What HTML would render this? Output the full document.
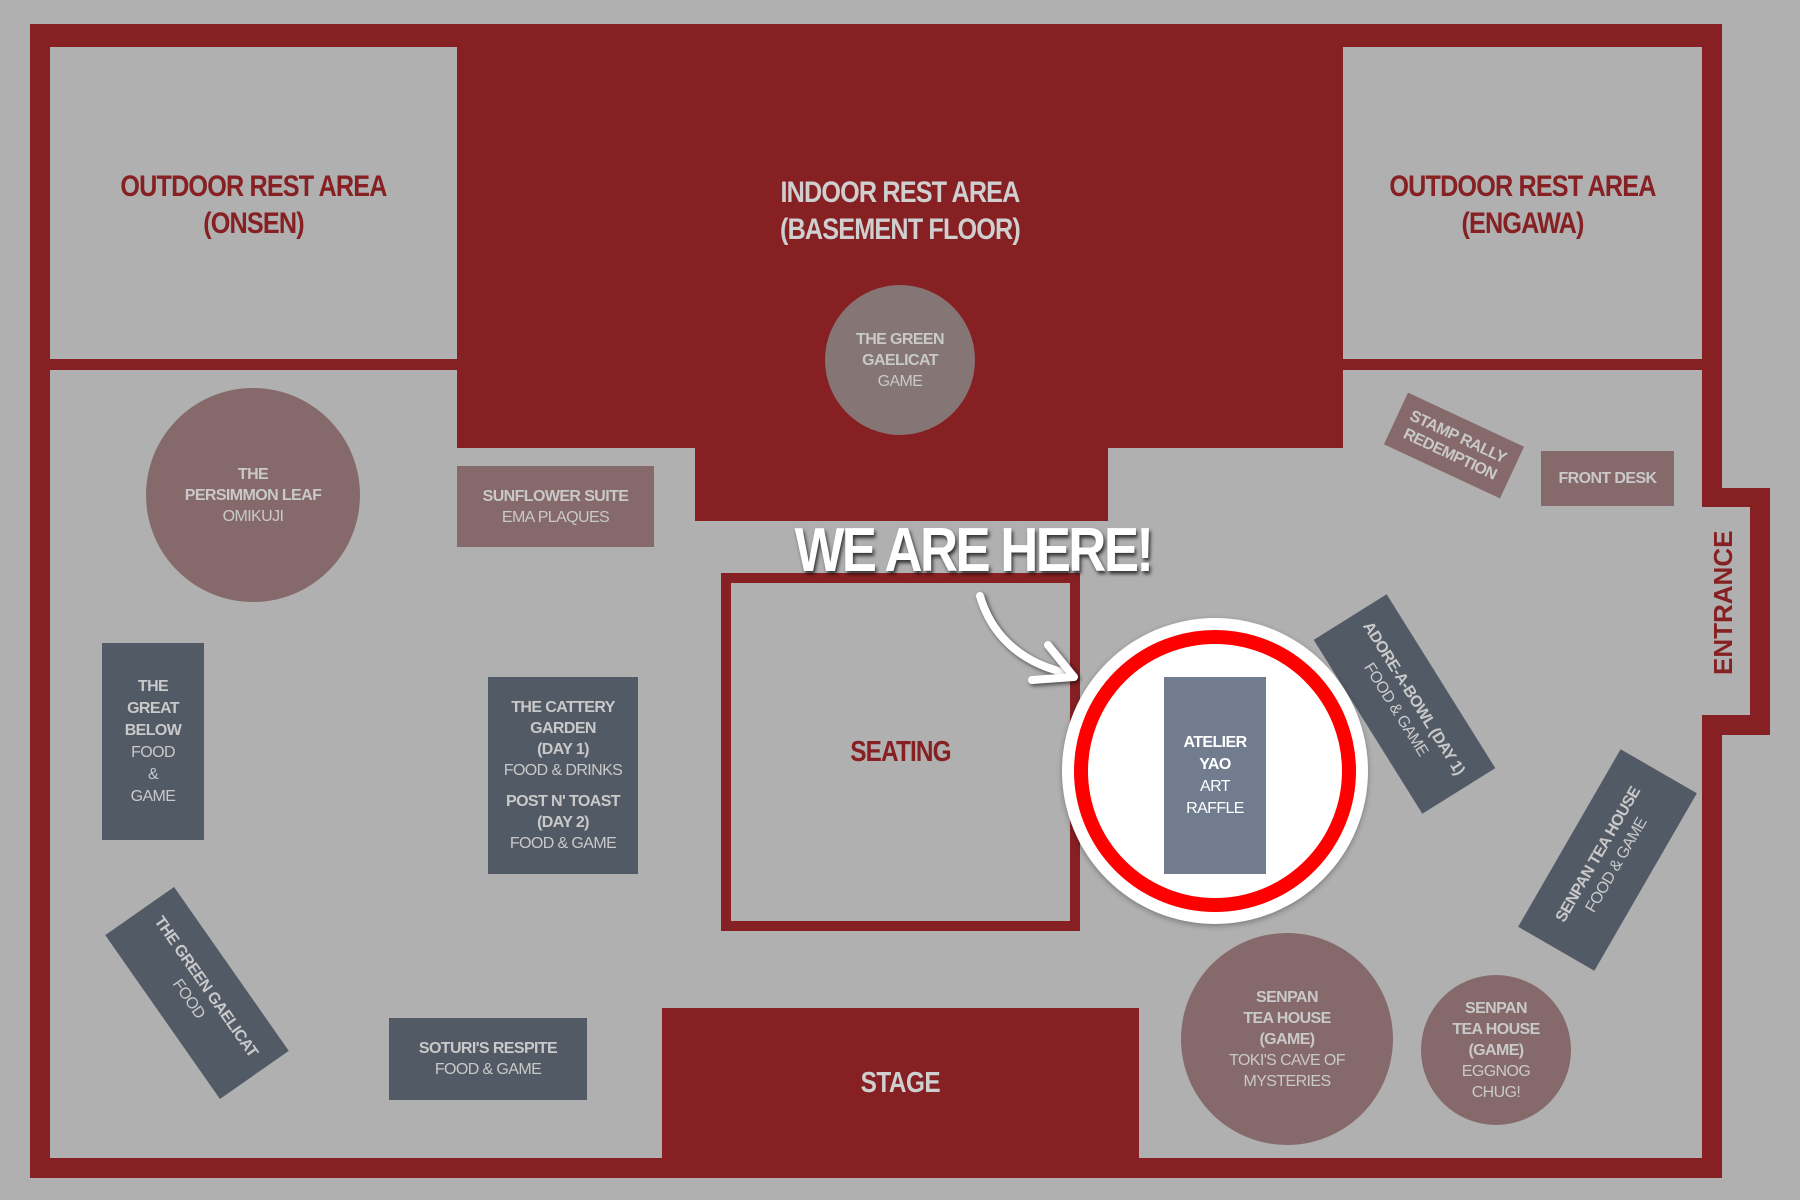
<!DOCTYPE html>
<html><head><meta charset="utf-8"><style>
*{margin:0;padding:0;box-sizing:border-box}
body{width:1800px;height:1200px;background:#b0b0b0;position:relative;overflow:hidden;font-family:"Liberation Sans",sans-serif}
.a{position:absolute}
.red{background:#862023}
.g{background:#b0b0b0}
.t{display:flex;flex-direction:column;align-items:center;justify-content:center;text-align:center;color:#c9c9c9;font-size:16px;line-height:21px;letter-spacing:-0.6px;white-space:nowrap}
.t b{font-weight:bold}
.mv{background:#866a6b}
.dk{background:#525a66}
.title{color:#862023;font-weight:bold;font-size:30px;line-height:37px;letter-spacing:-1px}
.sx{transform:scaleX(.84)}
</style></head><body>
<div class="a red" style="left:30px;top:24px;width:1692px;height:1154px"></div>
<div class="a red" style="left:1700px;top:488px;width:70px;height:247px"></div>
<div class="a g" style="left:50px;top:47px;width:1652px;height:1111px"></div>
<div class="a g" style="left:1700px;top:507px;width:50px;height:208px"></div>
<div class="a red" style="left:50px;top:359px;width:407px;height:11px"></div>
<div class="a red" style="left:1343px;top:359px;width:359px;height:11px"></div>
<div class="a red" style="left:457px;top:47px;width:886px;height:401px"></div>
<div class="a red" style="left:695px;top:440px;width:413px;height:81px"></div>
<div class="a t title sx" style="left:50px;top:160px;width:407px;height:90px">OUTDOOR REST AREA<br>(ONSEN)</div>
<div class="a t title sx" style="left:1343px;top:160px;width:359px;height:90px">OUTDOOR REST AREA<br>(ENGAWA)</div>
<div class="a t title sx" style="left:457px;top:166px;width:886px;height:90px;color:#cfcfcf">INDOOR REST AREA<br>(BASEMENT FLOOR)</div>
<div class="a t" style="left:825px;top:285px;width:150px;height:150px;border-radius:50%;background:#857575"><b>THE GREEN<br>GAELICAT</b>GAME</div>
<div class="a t mv" style="left:146px;top:388px;width:214px;height:214px;border-radius:50%"><b>THE<br>PERSIMMON LEAF</b>OMIKUJI</div>
<div class="a t mv" style="left:457px;top:466px;width:197px;height:81px"><b>SUNFLOWER SUITE</b>EMA PLAQUES</div>
<div class="a" style="left:721px;top:573px;width:359px;height:358px;border:10px solid #862023"></div>
<div class="a t title sx" style="left:721px;top:573px;width:359px;height:358px;font-size:29px">SEATING</div>
<div class="a red t" style="left:662px;top:1008px;width:477px;height:150px;color:#cfcfcf;font-size:29px;font-weight:bold"><span class="sx" style="display:inline-block">STAGE</span></div>
<div class="a t dk" style="left:102px;top:643px;width:102px;height:197px;line-height:22px"><b>THE<br>GREAT<br>BELOW</b>FOOD<br>&amp;<br>GAME</div>
<div class="a t dk" style="left:488px;top:677px;width:150px;height:197px;line-height:21px"><b>THE CATTERY<br>GARDEN<br>(DAY 1)</b>FOOD &amp; DRINKS<div style="height:10px"></div><b>POST N' TOAST<br>(DAY 2)</b>FOOD &amp; GAME</div>
<div class="a t dk" style="left:389px;top:1018px;width:198px;height:82px"><b>SOTURI'S RESPITE</b>FOOD &amp; GAME</div>
<div class="a t dk" style="left:97px;top:951px;width:200px;height:84px;transform:rotate(55deg)"><b>THE GREEN GAELICAT</b>FOOD</div>
<div class="a t mv" style="left:1181px;top:933px;width:212px;height:212px;border-radius:50%"><b>SENPAN<br>TEA HOUSE<br>(GAME)</b>TOKI'S CAVE OF<br>MYSTERIES</div>
<div class="a t mv" style="left:1421px;top:975px;width:150px;height:150px;border-radius:50%"><b>SENPAN<br>TEA HOUSE<br>(GAME)</b>EGGNOG<br>CHUG!</div>
<div class="a t mv" style="left:1390px;top:417px;width:128px;height:57px;transform:rotate(25deg);line-height:19px"><b>STAMP RALLY<br>REDEMPTION</b></div>
<div class="a t mv" style="left:1541px;top:451px;width:133px;height:55px"><b>FRONT DESK</b></div>
<div class="a t dk" style="left:1302px;top:661px;width:205px;height:86px;transform:rotate(58deg)"><b>ADORE-A-BOWL (DAY 1)</b>FOOD &amp; GAME</div>
<div class="a t dk" style="left:1505px;top:816px;width:205px;height:88px;transform:rotate(-60deg)"><b>SENPAN TEA HOUSE</b>FOOD &amp; GAME</div>
<div class="a" style="left:1663px;top:597px;width:120px;height:36px;transform:rotate(-90deg);color:#862023;font-weight:bold;font-size:26px;text-align:center;line-height:36px;white-space:nowrap">ENTRANCE</div>
<div class="a" style="left:1062px;top:618px;width:306px;height:306px;border-radius:50%;background:#fff;box-shadow:0 2px 6px rgba(0,0,0,0.3)"></div>
<div class="a" style="left:1074px;top:630px;width:282px;height:282px;border-radius:50%;border:14px solid #f00;background:#fff"></div>
<div class="a t" style="left:1164px;top:677px;width:102px;height:197px;background:#717d8f;color:#fff;line-height:22px"><b>ATELIER<br>YAO</b>ART<br>RAFFLE</div>
<div class="a" style="left:723px;top:516px;width:500px;text-align:center;color:#fff;font-weight:bold;font-size:62px;line-height:70px;letter-spacing:-3px;white-space:nowrap;transform:scaleX(.85);text-shadow:2px 3px 4px rgba(0,0,0,0.7)">WE ARE HERE!</div>
<svg class="a" style="left:0;top:0" width="1800" height="1200">
<path d="M980 596 C990 630 1015 660 1062 672" fill="none" stroke="#fff" stroke-width="8" stroke-linecap="round" style="filter:drop-shadow(2px 2px 2px rgba(0,0,0,0.6))"/>
<path d="M1048 645 L1074 677 L1032 680" fill="none" stroke="#fff" stroke-width="8" stroke-linecap="round" stroke-linejoin="round" style="filter:drop-shadow(2px 2px 2px rgba(0,0,0,0.6))"/>
</svg>
</body></html>
